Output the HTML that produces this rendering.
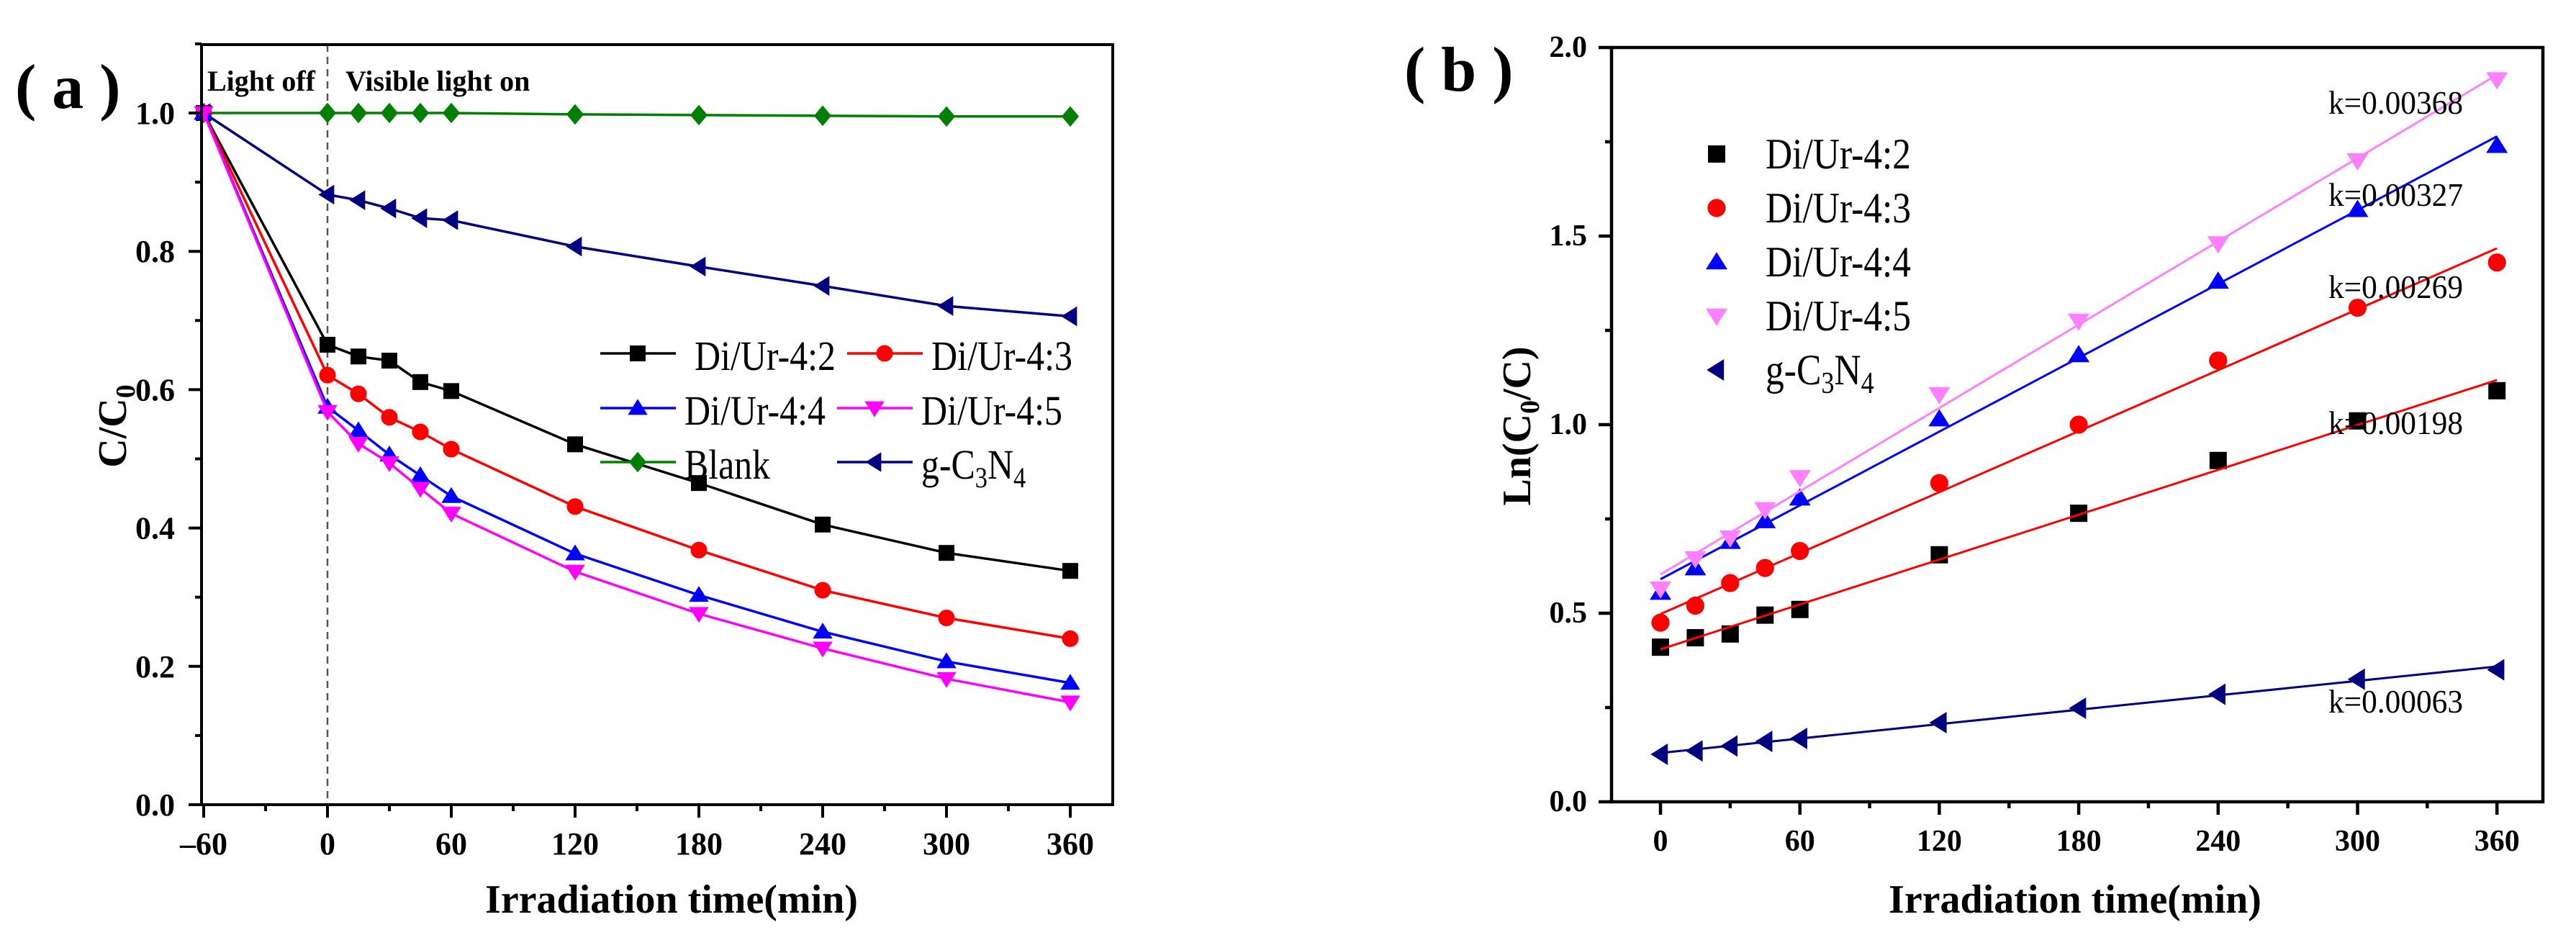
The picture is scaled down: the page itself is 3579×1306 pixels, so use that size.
<!DOCTYPE html>
<html><head><meta charset="utf-8"><style>
html,body{margin:0;padding:0;background:#fff;}
svg{display:block;}
text{font-family:"Liberation Serif",serif;}
</style></head><body>
<svg id="chart" width="3579" height="1306" viewBox="0 0 3579 1306" xmlns="http://www.w3.org/2000/svg">
<g id="pa"></g>
<g id="pb"></g>
</svg>
<script>
// Panel (a) data
const aTimes = [-60, 0, 15, 30, 45, 60, 120, 180, 240, 300, 360];
const aDi42 = [1, 0.665, 0.648, 0.642, 0.611, 0.598, 0.521, 0.465, 0.405, 0.364, 0.338];
const aDi43 = [1, 0.621, 0.594, 0.560, 0.539, 0.514, 0.431, 0.368, 0.310, 0.270, 0.240];
const aDi44 = [1, 0.575, 0.541, 0.506, 0.476, 0.446, 0.363, 0.303, 0.250, 0.207, 0.176];
const aDi45 = [1, 0.568, 0.522, 0.494, 0.457, 0.421, 0.337, 0.276, 0.226, 0.182, 0.148];
const aBlank = [1, 1, 1, 1, 1, 1, 0.998, 0.997, 0.996, 0.995, 0.995];
const aGCN = [1, 0.882, 0.874, 0.862, 0.848, 0.845, 0.807, 0.778, 0.750, 0.721, 0.706];
const aXTicks = [-60, 0, 60, 120, 180, 240, 300, 360];
const aXTickLabels = ["\u201360", "0", "60", "120", "180", "240", "300", "360"];
const aYTicks = [0, 0.2, 0.4, 0.6, 0.8, 1.0];
const aYTickLabels = ["0.0", "0.2", "0.4", "0.6", "0.8", "1.0"];
// Panel (b) data
const bTimes = [0, 15, 30, 45, 60, 120, 180, 240, 300, 360];
const bDi42 = [0.41, 0.435, 0.445, 0.495, 0.51, 0.655, 0.765, 0.905, 1.01, 1.09];
const bDi43 = [0.475, 0.52, 0.58, 0.62, 0.665, 0.845, 1.0, 1.17, 1.31, 1.43];
const bDi44 = [0.555, 0.62, 0.69, 0.745, 0.805, 1.015, 1.185, 1.38, 1.57, 1.74];
const bDi45 = [0.565, 0.645, 0.70, 0.775, 0.86, 1.08, 1.275, 1.48, 1.70, 1.915];
const bGCN = [0.126, 0.135, 0.148, 0.16, 0.168, 0.21, 0.248, 0.285, 0.325, 0.35];
const bKLabels = ["k=0.00198", "k=0.00269", "k=0.00327", "k=0.00368", "k=0.00063"];
const bXTicks = [0, 60, 120, 180, 240, 300, 360];
const bYTicks = [0, 0.5, 1.0, 1.5, 2.0];
const bYTickLabels = ["0.0", "0.5", "1.0", "1.5", "2.0"];

const NS = "http://www.w3.org/2000/svg";
function mk(parent, tag, attrs, txt) {
  const e = document.createElementNS(NS, tag);
  for (const k in attrs) e.setAttribute(k, attrs[k]);
  if (txt !== undefined) e.textContent = txt;
  parent.appendChild(e);
  return e;
}
function marker(g, type, x, y, s, color) {
  let e;
  const h = s / 2;
  if (type === "sq") e = mk(g, "rect", {x: x - h, y: y - h, width: s, height: s, fill: color});
  else if (type === "ci") e = mk(g, "circle", {cx: x, cy: y, r: h * 1.05, fill: color});
  else if (type === "up") e = mk(g, "polygon", {points: `${x},${y - h * 1.15} ${x - h * 1.25},${y + h * 0.85} ${x + h * 1.25},${y + h * 0.85}`, fill: color});
  else if (type === "dn") e = mk(g, "polygon", {points: `${x},${y + h * 1.15} ${x - h * 1.25},${y - h * 0.85} ${x + h * 1.25},${y - h * 0.85}`, fill: color});
  else if (type === "di") e = mk(g, "polygon", {points: `${x},${y - h * 1.3} ${x + h * 1.1},${y} ${x},${y + h * 1.3} ${x - h * 1.1},${y}`, fill: color});
  else if (type === "lt") e = mk(g, "polygon", {points: `${x - h * 1.15},${y} ${x + h * 0.85},${y - h * 1.25} ${x + h * 0.85},${y + h * 1.25}`, fill: color});
  return e;
}

// ---------- Panel A ----------
(function () {
  const g = document.getElementById("pa");
  const L = 280, R = 1546, T = 62, B = 1118;
  const xs = v => 455 + (v / 60) * 172;
  const ys = v => 1118 - v * 961;
  const dl = mk(g, "line", {x1: xs(0), y1: T, x2: xs(0), y2: B, stroke: "#555", "stroke-width": 2.5, "stroke-dasharray": "10,7"});
  
  
  const series = [
    {n: "blank", d: aBlank, c: "#008000", m: "di"},
    {n: "g-c3n4", d: aGCN, c: "#000080", m: "lt"},
    {n: "di-ur-4-2", d: aDi42, c: "#000000", m: "sq"},
    {n: "di-ur-4-3", d: aDi43, c: "#ff0000", m: "ci"},
    {n: "di-ur-4-4", d: aDi44, c: "#0000ff", m: "up"},
    {n: "di-ur-4-5", d: aDi45, c: "#ff00ff", m: "dn"}
  ];
  series.forEach(s => {
    const sg = mk(g, "g", {});
    
    
    const pts = aTimes.map((t, i) => xs(t) + "," + ys(s.d[i])).join(" ");
    mk(sg, "polyline", {points: pts, fill: "none", stroke: s.c, "stroke-width": 3.5});
    aTimes.forEach((t, i) => {
      const m = marker(sg, s.m, xs(t), ys(s.d[i]), 22, s.c);
      
      
    });
  });
  const ax = mk(g, "rect", {x: L, y: T, width: R - L, height: B - T, fill: "none", stroke: "#000", "stroke-width": 4});
  
  
  for (let v = -60; v <= 360; v += 30) {
    const major = v % 60 === 0;
    mk(g, "line", {x1: xs(v), y1: B, x2: xs(v), y2: B + (major ? 18 : 9), stroke: "#000", "stroke-width": 4});
  }
  aXTicks.forEach((v, i) => {
    const t = mk(g, "text", {x: xs(v), y: 1187, "font-size": 44, "font-weight": "bold", "text-anchor": "middle"}, aXTickLabels[i]);
    
    
  });
  for (let v = 0; v <= 1.1; v += 0.1) {
    const major = Math.round(v * 10) % 2 === 0;
    mk(g, "line", {x1: L, y1: ys(v), x2: L - (major ? 18 : 9), y2: ys(v), stroke: "#000", "stroke-width": 4});
  }
  aYTicks.forEach((v, i) => {
    const t = mk(g, "text", {x: 243, y: ys(v) + 15, "font-size": 44, "font-weight": "bold", "text-anchor": "end"}, aYTickLabels[i]);
    
    
  });
  let t;
  t = mk(g, "text", {x: 288, y: 126, "font-size": 40, "font-weight": "bold"}, "Light off");
   
  t = mk(g, "text", {x: 480, y: 126, "font-size": 40, "font-weight": "bold"}, "Visible light on");
   
  t = mk(g, "text", {x: 21, y: 150, "font-size": 88, "font-weight": "bold"}, "( a )");
   
  t = mk(g, "text", {x: 933, y: 1268, "font-size": 56, "font-weight": "bold", "text-anchor": "middle"}, "Irradiation time(min)");
   
  t = mk(g, "text", {x: 0, y: 0, "font-size": 56, "font-weight": "bold", "text-anchor": "middle", transform: "translate(175,592) rotate(-90)"});
  t.innerHTML = 'C/C<tspan font-size="38" dy="12">0</tspan>';
   
  // legend
  const lg = mk(g, "g", {});
   
  const leg = [
    {x: 834, y: 491, tx: 965, c: "#000000", m: "sq", t: "Di/Ur-4:2", w: 196},
    {x: 1177, y: 491, tx: 1294, c: "#ff0000", m: "ci", t: "Di/Ur-4:3", w: 196},
    {x: 834, y: 567, tx: 951, c: "#0000ff", m: "up", t: "Di/Ur-4:4", w: 196},
    {x: 1163, y: 567, tx: 1280, c: "#ff00ff", m: "dn", t: "Di/Ur-4:5", w: 196},
    {x: 834, y: 642, tx: 951, c: "#008000", m: "di", t: "Blank", w: 119},
    {x: 1163, y: 642, tx: 1280, c: "#000080", m: "lt", t: "", w: 0}
  ];
  leg.forEach(e => {
    const eg = mk(lg, "g", {});
     
    mk(eg, "line", {x1: e.x, y1: e.y, x2: e.x + 105, y2: e.y, stroke: e.c, "stroke-width": 3.5});
    marker(eg, e.m, e.x + 52, e.y, 22, e.c);
    if (e.w) {
      mk(eg, "text", {x: e.tx, y: e.y + 23, "font-size": 58, textLength: e.w, lengthAdjust: "spacingAndGlyphs"}, e.t);
    } else {
      const tt = mk(eg, "text", {x: e.tx, y: e.y + 23, "font-size": 58, transform: `translate(${e.tx},0) scale(0.86,1) translate(${-e.tx},0)`});
      tt.innerHTML = 'g-C<tspan font-size="40" dy="12">3</tspan><tspan dy="-12">N</tspan><tspan font-size="40" dy="12">4</tspan>';
    }
  });
})();

// ---------- Panel B ----------
(function () {
  const g = document.getElementById("pb");
  const L = 2239, R = 3533, T = 66, B = 1114;
  const xs = v => 2307 + (v / 60) * 193.7;
  const ys = v => 1114 - v * 524;
  function fit(xsArr, ysArr) {
    const n = xsArr.length;
    let sx = 0, sy = 0, sxx = 0, sxy = 0;
    for (let i = 0; i < n; i++) { sx += xsArr[i]; sy += ysArr[i]; sxx += xsArr[i] * xsArr[i]; sxy += xsArr[i] * ysArr[i]; }
    const b = (n * sxy - sx * sy) / (n * sxx - sx * sx);
    const a = (sy - b * sx) / n;
    return [a, b];
  }
  const series = [
    {n: "di-ur-4-2", d: bDi42, c: "#000000", lc: "#ff0000", m: "sq", k: 0, ky: 603},
    {n: "di-ur-4-3", d: bDi43, c: "#ff0000", lc: "#ff0000", m: "ci", k: 1, ky: 414},
    {n: "di-ur-4-4", d: bDi44, c: "#0000ff", lc: "#0000ff", m: "up", k: 2, ky: 286},
    {n: "di-ur-4-5", d: bDi45, c: "#ff80ff", lc: "#ff80ff", m: "dn", k: 3, ky: 158},
    {n: "g-c3n4", d: bGCN, c: "#000080", lc: "#000080", m: "lt", k: 4, ky: 990}
  ];
  series.forEach(s => {
    const sg = mk(g, "g", {});
    
    
    const [a, b] = fit(bTimes, s.d);
    bTimes.forEach((t, i) => {
      const m = marker(sg, s.m, xs(t), ys(s.d[i]), 24, s.c);
      
      
    });
    const fl = mk(sg, "line", {x1: xs(0), y1: ys(a), x2: xs(360), y2: ys(a + b * 360), stroke: s.lc, "stroke-width": 3});
    
    
    const kt = mk(g, "text", {x: 3235, y: s.ky, "font-size": 46, textLength: 187, lengthAdjust: "spacingAndGlyphs"}, bKLabels[s.k]);
    
    
  });
  const ax = mk(g, "rect", {x: L, y: T, width: R - L, height: B - T, fill: "none", stroke: "#000", "stroke-width": 4.5});
  
  
  for (let v = 0; v <= 360; v += 30) {
    const major = v % 60 === 0;
    mk(g, "line", {x1: xs(v), y1: B, x2: xs(v), y2: B + (major ? 18 : 9), stroke: "#000", "stroke-width": 4.5});
  }
  bXTicks.forEach(v => {
    const t = mk(g, "text", {x: xs(v), y: 1182, "font-size": 42, "font-weight": "bold", "text-anchor": "middle"}, String(v));
    
    
  });
  for (let v = 0; v <= 2.0; v += 0.25) {
    const major = Math.round(v * 4) % 2 === 0;
    mk(g, "line", {x1: L, y1: ys(v), x2: L - (major ? 18 : 9), y2: ys(v), stroke: "#000", "stroke-width": 4.5});
  }
  bYTicks.forEach((v, i) => {
    const t = mk(g, "text", {x: 2205, y: ys(v) + 13, "font-size": 42, "font-weight": "bold", "text-anchor": "end"}, bYTickLabels[i]);
    
    
  });
  let t;
  t = mk(g, "text", {x: 1951, y: 126, "font-size": 88, "font-weight": "bold"}, "( b )");
   
  t = mk(g, "text", {x: 2883, y: 1268, "font-size": 56, "font-weight": "bold", "text-anchor": "middle"}, "Irradiation time(min)");
   
  t = mk(g, "text", {x: 0, y: 0, "font-size": 56, "font-weight": "bold", "text-anchor": "middle", transform: "translate(2126,592) rotate(-90)"});
  t.innerHTML = 'Ln(C<tspan font-size="38" dy="12">0</tspan><tspan dy="-12">/C)</tspan>';
   
  const lg = mk(g, "g", {});
   
  const leg = [
    {y: 214, c: "#000000", m: "sq", t: "Di/Ur-4:2"},
    {y: 289, c: "#ff0000", m: "ci", t: "Di/Ur-4:3"},
    {y: 364, c: "#0000ff", m: "up", t: "Di/Ur-4:4"},
    {y: 439, c: "#ff80ff", m: "dn", t: "Di/Ur-4:5"},
    {y: 514, c: "#000080", m: "lt", t: ""}
  ];
  leg.forEach(e => {
    const eg = mk(lg, "g", {});
     
    marker(eg, e.m, 2385, e.y, 24, e.c);
    if (e.t) {
      mk(eg, "text", {x: 2453, y: e.y + 20, "font-size": 60, textLength: 202, lengthAdjust: "spacingAndGlyphs"}, e.t);
    } else {
      const tt = mk(eg, "text", {x: 2453, y: e.y + 20, "font-size": 60, transform: "translate(2453,0) scale(0.86,1) translate(-2453,0)"});
      tt.innerHTML = 'g-C<tspan font-size="42" dy="12">3</tspan><tspan dy="-12">N</tspan><tspan font-size="42" dy="12">4</tspan>';
    }
  });
})();
</script>
</body></html>
